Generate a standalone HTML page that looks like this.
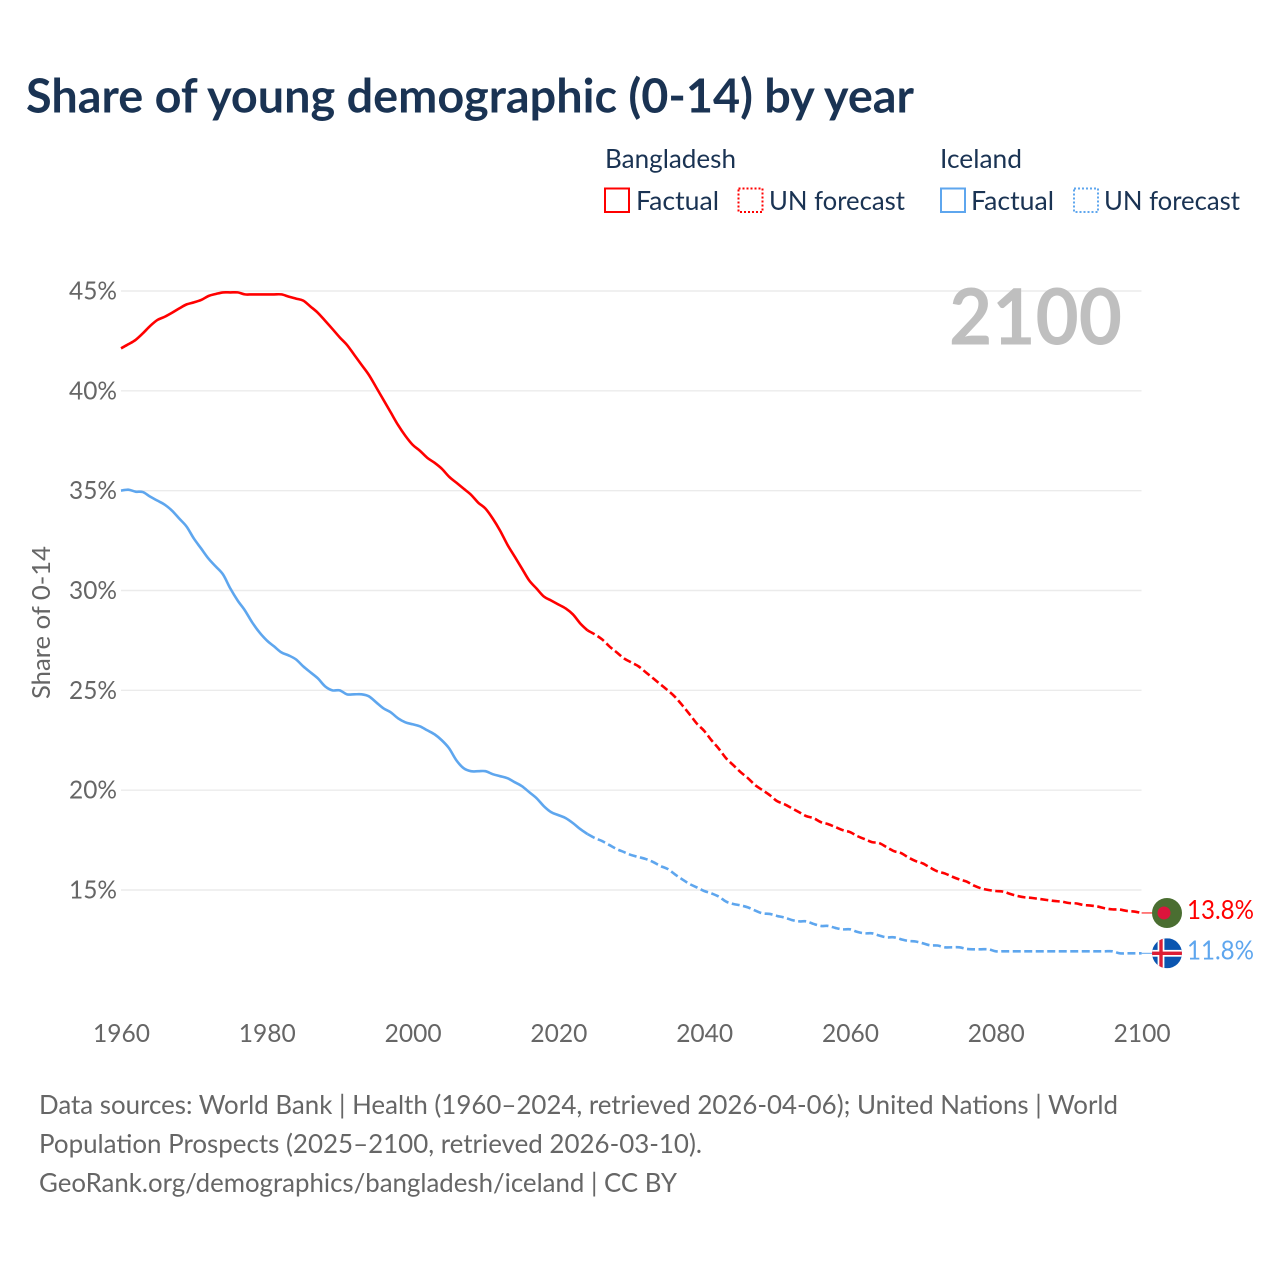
<!DOCTYPE html>
<html lang="en">
<head>
<meta charset="utf-8">
<title>Share of young demographic (0-14) by year</title>
<style>
html,body{margin:0;padding:0;background:#fff;width:1280px;height:1280px;overflow:hidden}
svg{display:block}
text{font-family:"Lato","Carlito","Liberation Sans",sans-serif}
.ink{fill:#1a3353}
.muted{fill:#666}
</style>
</head>
<body>
<svg id="chart" xmlns="http://www.w3.org/2000/svg" width="1280" height="1280" viewBox="0 0 1280 1280">
  <text class="ink" x="26" y="112.5" font-size="47" font-weight="700" textLength="888" lengthAdjust="spacingAndGlyphs">Share of young demographic (0-14) by year</text>

  <g>
    <text class="ink" x="605" y="168" font-size="26" textLength="131" lengthAdjust="spacingAndGlyphs">Bangladesh</text>
    <text class="ink" x="940" y="168" font-size="26" textLength="82" lengthAdjust="spacingAndGlyphs">Iceland</text>
    <rect x="605" y="188.5" width="24" height="23.5" fill="none" stroke="#ff0000" stroke-width="2"/>
    <text class="ink" x="636" y="210" font-size="26" textLength="83" lengthAdjust="spacingAndGlyphs">Factual</text>
    <rect x="738.5" y="188.5" width="24" height="23.5" fill="none" stroke="#ff0000" stroke-width="2" stroke-dasharray="2 2"/>
    <text class="ink" x="769" y="210" font-size="26" textLength="136" lengthAdjust="spacingAndGlyphs">UN forecast</text>
    <rect x="941" y="188.5" width="24" height="23.5" fill="none" stroke="#5ea6ee" stroke-width="2"/>
    <text class="ink" x="971" y="210" font-size="26" textLength="83" lengthAdjust="spacingAndGlyphs">Factual</text>
    <rect x="1074" y="188.5" width="24" height="23.5" fill="none" stroke="#5ea6ee" stroke-width="2" stroke-dasharray="2 2"/>
    <text class="ink" x="1104" y="210" font-size="26" textLength="136" lengthAdjust="spacingAndGlyphs">UN forecast</text>
  </g>

  <g id="grid"></g>
  <text x="949" y="344.5" font-size="78" font-weight="700" fill="#bfbfbf" textLength="173" lengthAdjust="spacingAndGlyphs">2100</text>
  <g id="yLabels"></g>
  <g id="xLabels"></g>
  <text class="muted" transform="translate(50 699) rotate(-90)" font-size="25" textLength="153" lengthAdjust="spacingAndGlyphs">Share of 0-14</text>
  <g id="series"></g>

  <g id="flagBangladesh">
    <circle cx="0" cy="0" r="15" fill="#4a6e31"/>
    <circle cx="-3" cy="0" r="6.5" fill="#dc143c"/>
  </g>
  <g id="flagIceland">
    <clipPath id="icelandClip"><circle cx="0" cy="0" r="15"/></clipPath>
    <g clip-path="url(#icelandClip)">
      <rect x="-15" y="-15" width="30" height="30" fill="#0b55b0"/>
      <rect x="-15" y="-3.4" width="30" height="6.8" fill="#fff"/>
      <rect x="-9.4" y="-15" width="6.8" height="30" fill="#fff"/>
      <rect x="-15" y="-1.7" width="30" height="3.4" fill="#dc1e35"/>
      <rect x="-7.7" y="-15" width="3.4" height="30" fill="#dc1e35"/>
    </g>
  </g>
  <text id="labelBangladesh" x="1187" font-size="26" fill="#ff0000" textLength="67" lengthAdjust="spacingAndGlyphs"></text>
  <text id="labelIceland" x="1187" font-size="26" fill="#5ea6ee" textLength="67" lengthAdjust="spacingAndGlyphs"></text>

  <g>
    <text class="muted" x="39" y="1114" font-size="26" textLength="1079" lengthAdjust="spacingAndGlyphs">Data sources: World Bank | Health (1960–2024, retrieved 2026-04-06); United Nations | World</text>
    <text class="muted" x="39" y="1153" font-size="26" textLength="663" lengthAdjust="spacingAndGlyphs">Population Prospects (2025–2100, retrieved 2026-03-10).</text>
    <text class="muted" x="39" y="1192" font-size="26" textLength="638" lengthAdjust="spacingAndGlyphs">GeoRank.org/demographics/bangladesh/iceland | CC BY</text>
  </g>
</svg>
<script>
const yTickValues = [45, 40, 35, 30, 25, 20, 15];
const xTickYears = [1960, 1980, 2000, 2020, 2040, 2060, 2080, 2100];
const factualStartYear = 1960;
const forecastStartYear = 2025;

const bangladeshFactual = [42.13,42.33,42.55,42.88,43.25,43.55,43.71,43.91,44.13,44.33,44.43,44.55,44.75,44.85,44.93,44.93,44.93,44.83,44.83,44.83,44.83,44.83,44.83,44.72,44.62,44.52,44.22,43.91,43.51,43.1,42.68,42.3,41.8,41.3,40.8,40.18,39.55,38.92,38.29,37.75,37.3,37.0,36.65,36.4,36.1,35.7,35.4,35.1,34.8,34.4,34.1,33.6,33.0,32.3,31.7,31.1,30.5,30.1,29.7,29.5,29.3,29.1,28.8,28.35,28.0];
const bangladeshForecast = [27.8,27.55,27.2,26.9,26.6,26.4,26.2,25.9,25.6,25.3,25.0,24.67,24.25,23.8,23.33,22.97,22.5,22.08,21.6,21.25,20.9,20.6,20.25,20.0,19.75,19.45,19.3,19.1,18.9,18.7,18.6,18.4,18.3,18.15,18.0,17.9,17.7,17.55,17.4,17.35,17.15,16.95,16.85,16.63,16.45,16.33,16.12,15.93,15.83,15.67,15.53,15.42,15.22,15.08,15.0,14.95,14.92,14.8,14.7,14.63,14.6,14.55,14.5,14.45,14.42,14.35,14.33,14.25,14.22,14.17,14.08,14.03,14.02,13.95,13.92,13.85];
const icelandFactual = [35.0,35.05,34.95,34.93,34.7,34.5,34.3,34.0,33.6,33.2,32.6,32.1,31.6,31.2,30.8,30.1,29.5,29.0,28.4,27.9,27.5,27.2,26.9,26.75,26.55,26.2,25.9,25.6,25.2,25.0,25.0,24.8,24.8,24.8,24.7,24.4,24.1,23.9,23.6,23.4,23.3,23.2,23.0,22.8,22.5,22.1,21.5,21.1,20.95,20.95,20.95,20.8,20.7,20.6,20.4,20.2,19.9,19.6,19.2,18.9,18.75,18.6,18.35,18.05,17.8];
const icelandForecast = [17.6,17.45,17.25,17.05,16.9,16.75,16.65,16.55,16.4,16.2,16.05,15.78,15.53,15.3,15.13,14.95,14.83,14.67,14.42,14.3,14.23,14.13,13.97,13.83,13.8,13.7,13.62,13.5,13.43,13.43,13.3,13.2,13.2,13.1,13.03,13.03,12.9,12.83,12.83,12.72,12.63,12.63,12.53,12.45,12.42,12.33,12.23,12.22,12.13,12.13,12.13,12.05,12.03,12.03,12.03,11.93,11.93,11.93,11.93,11.93,11.93,11.93,11.93,11.93,11.93,11.93,11.93,11.93,11.93,11.93,11.93,11.93,11.83,11.83,11.83,11.83];
const endLabels = ["13.8%", "11.8%"];

const NS = 'http://www.w3.org/2000/svg';
const xScale = year => 121 + (year - 1960) * (1020.6 / 140);
const yScale = value => 291 + (45 - value) * (599 / 30);

function make(tag, attrs, parent) {
  const el = document.createElementNS(NS, tag);
  for (const k in attrs) el.setAttribute(k, attrs[k]);
  parent.appendChild(el);
  return el;
}

const grid = document.getElementById('grid');
const yLabels = document.getElementById('yLabels');
yTickValues.forEach(v => {
  const line = make('line', {x1: 121, x2: 1141.5, y1: yScale(v), y2: yScale(v), stroke: '#ebebeb', 'stroke-width': 1.4}, grid);
  
  
  const t = make('text', {x: 117, y: yScale(v) + 8.5, 'text-anchor': 'end', 'font-size': 25, fill: '#666', textLength: 48, lengthAdjust: 'spacingAndGlyphs'}, yLabels);
  
  
  t.textContent = v + '%';
});

const xLabels = document.getElementById('xLabels');
xTickYears.forEach(year => {
  const t = make('text', {x: xScale(year) + 0.5, y: 1042, 'text-anchor': 'middle', 'font-size': 25, fill: '#666', textLength: 57, lengthAdjust: 'spacingAndGlyphs'}, xLabels);
  
  
  t.textContent = year;
});

function toPoints(values, startYear) {
  return values.map((v, i) => [xScale(startYear + i), yScale(v)]);
}

/* Smooth curve through the data points (Catmull-Rom converted to cubic Bezier). */
function curvePath(pts) {
  const f = n => n.toFixed(2);
  let d = 'M' + f(pts[0][0]) + ' ' + f(pts[0][1]);
  for (let i = 0; i < pts.length - 1; i++) {
    const p0 = pts[Math.max(i - 1, 0)];
    const p1 = pts[i];
    const p2 = pts[i + 1];
    const p3 = pts[Math.min(i + 2, pts.length - 1)];
    const c1x = p1[0] + (p2[0] - p0[0]) / 6;
    const c1y = p1[1] + (p2[1] - p0[1]) / 6;
    const c2x = p2[0] - (p3[0] - p1[0]) / 6;
    const c2y = p2[1] - (p3[1] - p1[1]) / 6;
    d += 'C' + f(c1x) + ' ' + f(c1y) + ' ' + f(c2x) + ' ' + f(c2y) + ' ' + f(p2[0]) + ' ' + f(p2[1]);
  }
  return d;
}

const seriesGroup = document.getElementById('series');
function drawSeries(factual, forecast, color) {
  const factualPts = toPoints(factual, factualStartYear);
  const factualLine = make('path', {d: curvePath(factualPts), fill: 'none', stroke: color, 'stroke-width': 2.6, 'stroke-linejoin': 'round'}, seriesGroup);
  
  
  const forecastPts = factualPts.slice(-1).concat(toPoints(forecast, forecastStartYear));
  const forecastLine = make('path', {d: curvePath(forecastPts), fill: 'none', stroke: color, 'stroke-width': 2.6, 'stroke-dasharray': '8 3.5', 'stroke-dashoffset': 0}, seriesGroup);
  
  
  const endY = yScale(forecast[forecast.length - 1]);
  const connector = make('line', {x1: xScale(2100), x2: 1153, y1: endY, y2: endY, stroke: color, 'stroke-width': 1}, seriesGroup);
  
  
  return endY;
}

const endBangladesh = drawSeries(bangladeshFactual, bangladeshForecast, '#ff0000');
const endIceland = drawSeries(icelandFactual, icelandForecast, '#5ea6ee');

document.getElementById('flagBangladesh').setAttribute('transform', 'translate(1167 ' + endBangladesh + ')');
document.getElementById('flagIceland').setAttribute('transform', 'translate(1167 ' + endIceland + ')');
const labelBangladesh = document.getElementById('labelBangladesh');
labelBangladesh.setAttribute('y', endBangladesh + 6);
labelBangladesh.textContent = endLabels[0];
const labelIceland = document.getElementById('labelIceland');
labelIceland.setAttribute('y', endIceland + 6);
labelIceland.textContent = endLabels[1];
</script>
</body>
</html>
